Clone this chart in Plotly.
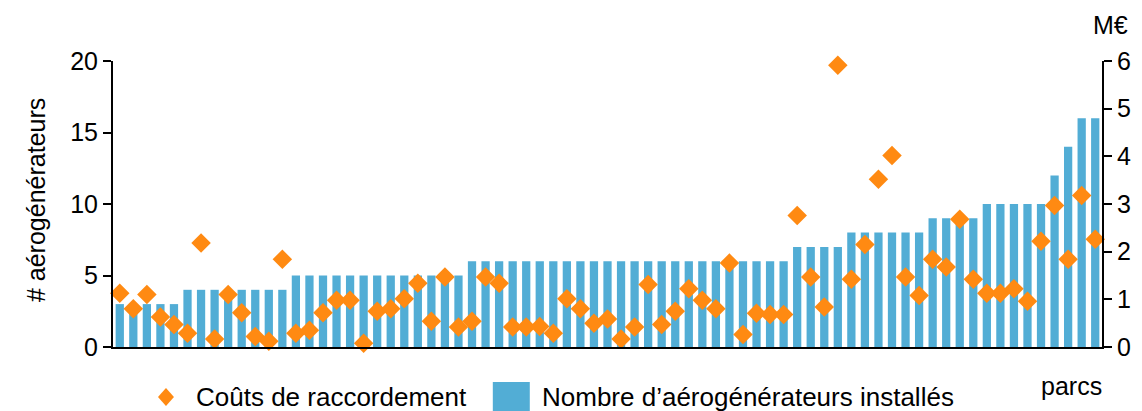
import plotly.graph_objects as go

# ---- data ----
parcs = list(range(1, 74))
nb_aerogenerateurs = [3, 3, 3, 3, 3,
                      4, 4, 4, 4, 4, 4, 4, 4,
                      5, 5, 5, 5, 5, 5, 5, 5, 5, 5, 5, 5, 5,
                      6, 6, 6, 6, 6, 6, 6, 6, 6, 6, 6, 6,
                      6, 6, 6, 6, 6, 6, 6, 6, 6, 6, 6, 6,
                      7, 7, 7, 7,
                      8, 8, 8, 8, 8, 8,
                      9, 9, 9, 9,
                      10, 10, 10, 10, 10,
                      12, 14, 16, 16]
couts_raccordement = [1.13, 0.80, 1.10, 0.63, 0.47, 0.29, 2.18, 0.17, 1.10, 0.72,
                      0.22, 0.12, 1.84, 0.29, 0.35, 0.72, 0.98, 0.98, 0.08, 0.75,
                      0.80, 1.01, 1.34, 0.54, 1.47, 0.42, 0.54, 1.47, 1.34, 0.42,
                      0.42, 0.43, 0.29, 1.01, 0.80, 0.50, 0.59, 0.17, 0.42, 1.31,
                      0.47, 0.75, 1.22, 0.98, 0.80, 1.76, 0.26, 0.71, 0.68, 0.68,
                      2.76, 1.47, 0.84, 5.91, 1.42, 2.15, 3.52, 4.02, 1.47, 1.08,
                      1.84, 1.68, 2.68, 1.42, 1.13, 1.13, 1.22, 0.96, 2.22, 2.97,
                      1.84, 3.18, 2.26]
left_ticks = [0, 5, 10, 15, 20]
right_ticks = [0, 1, 2, 3, 4, 5, 6]

BLUE = "#52ADD5"
ORANGE = "#FF8A12"
FONT = "Liberation Sans, Arial, sans-serif"
FS = 25
FS_LEG = 26

# the page body has an 8px margin, so the figure is drawn 8px in from the corner
OFF = 8
WIN_W, WIN_H = 1142, 411
W, H = WIN_W - OFF, WIN_H - OFF
# plot area in window pixels
L, R, T, B = 113, 1102.5, 61, 347


def px(x):
    return (x - L) / (R - L)


def py(y):
    return (B - y) / (B - T)


fig = go.Figure()
fig.add_trace(go.Bar(x=parcs, y=nb_aerogenerateurs, marker=dict(color=BLUE, line=dict(width=0)),
                     name="Nombre d’aérogénérateurs installés", yaxis="y"))
fig.add_trace(go.Scatter(x=parcs, y=couts_raccordement, mode="markers", cliponaxis=False,
                         marker=dict(symbol="diamond", size=15, color=ORANGE, line=dict(width=0)),
                         name="Coûts de raccordement", yaxis="y2"))

axis_font = dict(family=FONT, size=FS, color="#000000")
fig.update_layout(
    width=W, height=H,
    margin=dict(l=L - OFF, r=WIN_W - R, t=T - OFF, b=WIN_H - B, autoexpand=False),
    paper_bgcolor="white", plot_bgcolor="white",
    showlegend=False,
    bargap=0.39,
    font=dict(family=FONT, size=FS, color="#000000"),
    xaxis=dict(range=[0.5, 73.5], showticklabels=False, ticks="", showgrid=False,
               zeroline=False, showline=True, linecolor="black", linewidth=2),
    yaxis=dict(range=[0, 20], tickvals=left_ticks, ticks="outside", ticklen=8, tickwidth=2,
               tickcolor="black", showline=True, linecolor="black", linewidth=2,
               showgrid=False, zeroline=False, tickfont=axis_font, automargin=False),
    yaxis2=dict(range=[0, 6], tickvals=right_ticks, overlaying="y", side="right",
                ticks="outside", ticklen=8, tickwidth=2, tickcolor="black",
                showline=True, linecolor="black", linewidth=2, showgrid=False,
                zeroline=False, tickfont=axis_font, automargin=False),
)

fig.add_annotation(text="# aérogénérateurs", textangle=-90, x=px(36), y=py(200),
                   xref="paper", yref="paper", showarrow=False, xanchor="center",
                   yanchor="middle", font=dict(family=FONT, size=FS))
fig.add_annotation(text="M€", x=px(1111), y=py(25), xref="paper", yref="paper",
                   showarrow=False, xanchor="center", yanchor="middle",
                   font=dict(family=FONT, size=FS))
fig.add_annotation(text="parcs", x=px(1072), y=py(386), xref="paper", yref="paper",
                   showarrow=False, xanchor="center", yanchor="middle",
                   font=dict(family=FONT, size=FS))

# custom legend
cx, cy, hw, hh = 166, 397, 8, 9
fig.add_shape(type="path", xref="paper", yref="paper",
              path=f"M {px(cx - hw)} {py(cy)} L {px(cx)} {py(cy - hh)} L {px(cx + hw)} {py(cy)} L {px(cx)} {py(cy + hh)} Z",
              fillcolor=ORANGE, line=dict(width=0))
fig.add_annotation(text="Coûts de raccordement", x=px(194), y=py(397), xref="paper", yref="paper",
                   showarrow=False, xanchor="left", yanchor="middle",
                   font=dict(family=FONT, size=FS_LEG))
fig.add_shape(type="rect", xref="paper", yref="paper",
              x0=px(493), x1=px(530), y0=py(382), y1=py(412),
              fillcolor=BLUE, line=dict(width=0))
fig.add_annotation(text="Nombre d’aérogénérateurs installés", x=px(540), y=py(397), xref="paper",
                   yref="paper", showarrow=False, xanchor="left", yanchor="middle",
                   font=dict(family=FONT, size=FS_LEG))

fig.write_html("out.html")
